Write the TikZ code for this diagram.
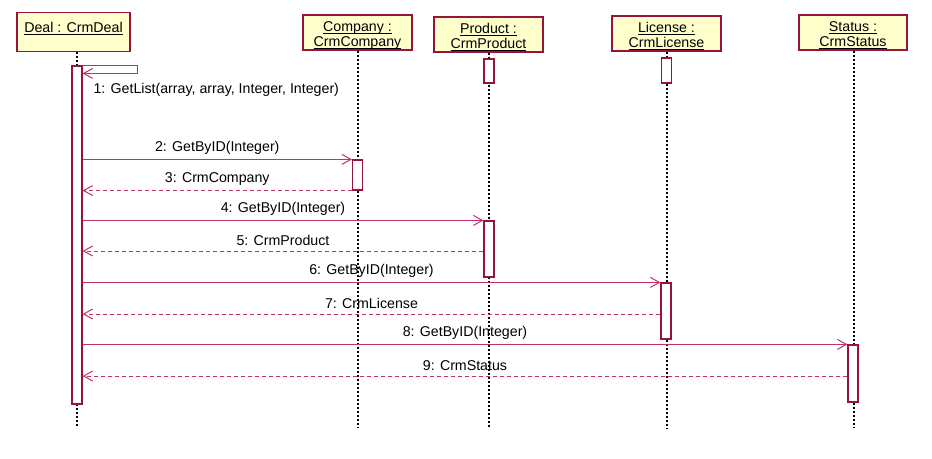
\documentclass[tikz,border=0pt]{standalone}
\usepackage{fontspec}
\setmainfont{Liberation Sans}
\usetikzlibrary{arrows.meta}
\definecolor{boxred}{RGB}{150,20,60}
\definecolor{msgpink}{RGB}{190,50,110}
\definecolor{headfill}{RGB}{255,255,204}
\newcommand{\headul}[1]{\setbox0\hbox{#1}\rlap{\rule[-2.5pt]{\wd0}{0.8pt}}\box0}

\begin{document}
\begin{tikzpicture}[x=1pt,y=-1pt,
    every node/.style={font=\fontsize{14.2}{15}\selectfont, text=black},
    head/.style={draw=boxred, fill=headfill, line width=1.3pt, inner sep=0pt,
      minimum width=109pt, minimum height=35pt, align=center},
    act/.style={draw=boxred, fill=white, line width=1.2pt, inner sep=0pt,
      minimum width=10pt},
    life/.style={black, line width=1.2pt, dash pattern=on 2pt off 2pt},
    call/.style={msgpink, line width=1pt, -{Straight Barb[length=9pt,width=10pt]}},
    ret/.style={call, dash pattern=on 4pt off 3pt}]
      \useasboundingbox (0,0) rectangle (932,458);

      \node[head, minimum width=113pt, minimum height=34pt] (deal) at (73.5,32)
        {\rule{0pt}{20pt}\headul{Deal : CrmDeal}\\ \strut};
      \node[head] (company) at (357.5,32.5) {\rule{0pt}{16pt}\headul{Company :}\\\headul{CrmCompany}};
      \node[head] (product) at (488.5,34.5) {\rule{0pt}{16pt}\headul{Product :}\\\headul{CrmProduct}};
      \node[head] (license) at (666.5,33.5) {\rule{0pt}{16pt}\headul{License :}\\\headul{CrmLicense}};
      \node[head, minimum width=108pt] (status) at (853,32.5) {\rule{0pt}{16pt}\headul{Status :}\\\headul{CrmStatus}};

      \coordinate (dealend) at (77,428);
      \coordinate (companyend) at (358,428);
      \coordinate (productend) at (489,428);
      \coordinate (licenseend) at (667,428);
      \coordinate (statusend) at (854,428);

      \draw[life] (deal.south -| dealend) -- (dealend);
      \draw[life] (company.south -| companyend) -- (companyend);
      \draw[life] (product.south -| productend) -- (productend);
      \draw[life] (license.south -| licenseend) -- (licenseend);
      \draw[life] (status.south -| statusend) -- (statusend);

      \node[act, minimum height=338pt] (dealact) at (77,235) {};
      \node[act, minimum height=24pt] (prodtop) at (489,71) {};
      \node[act, minimum height=25pt] (lictop) at (666.5,70.5) {};
      \node[act, minimum height=30pt] (compact) at (357.5,175) {};
      \node[act, minimum height=56pt] (prodact) at (489,249) {};
      \node[act, minimum height=56pt] (licact) at (666,311) {};
      \node[act, minimum height=57pt] (statact) at (853,373.5) {};

      % self call
      \draw[call] (dealact.north east) -- ++(55,0) -- ++(0,8) -- ++(-55,0);
      \node[anchor=west] (getlist) at (90,90) {1: GetList(array, array, Integer, Integer)};

      \coordinate (r5) at (prodact.west |- 0,251);
      \coordinate (r7) at (licact.west |- 0,314);
      \coordinate (r9) at (statact.west |- 0,376);

      \draw[call] (dealact.east |- compact.north) -- node[above=1.5pt] {2: GetByID(Integer)} (compact.north west);
      \draw[ret] (compact.south west) -- node[above=1.5pt] {3: CrmCompany} (dealact.east |- compact.south);
      \draw[call] (dealact.east |- prodact.north) -- node[above=1.5pt] {4: GetByID(Integer)} (prodact.north west);
      \draw[ret] (r5) -- node[above=1.5pt] {5: CrmProduct} (dealact.east |- r5);
      \draw[call] (dealact.east |- licact.north) -- node[above=1.5pt] {6: GetByID(Integer)} (licact.north west);
      \draw[ret] (r7) -- node[above=1.5pt] {7: CrmLicense} (dealact.east |- r7);
      \draw[call] (dealact.east |- statact.north) -- node[above=1.5pt] {8: GetByID(Integer)} (statact.north west);
      \draw[ret] (r9) -- node[above=1.5pt] {9: CrmStatus} (dealact.east |- r9);
    \end{tikzpicture}
\end{document}
